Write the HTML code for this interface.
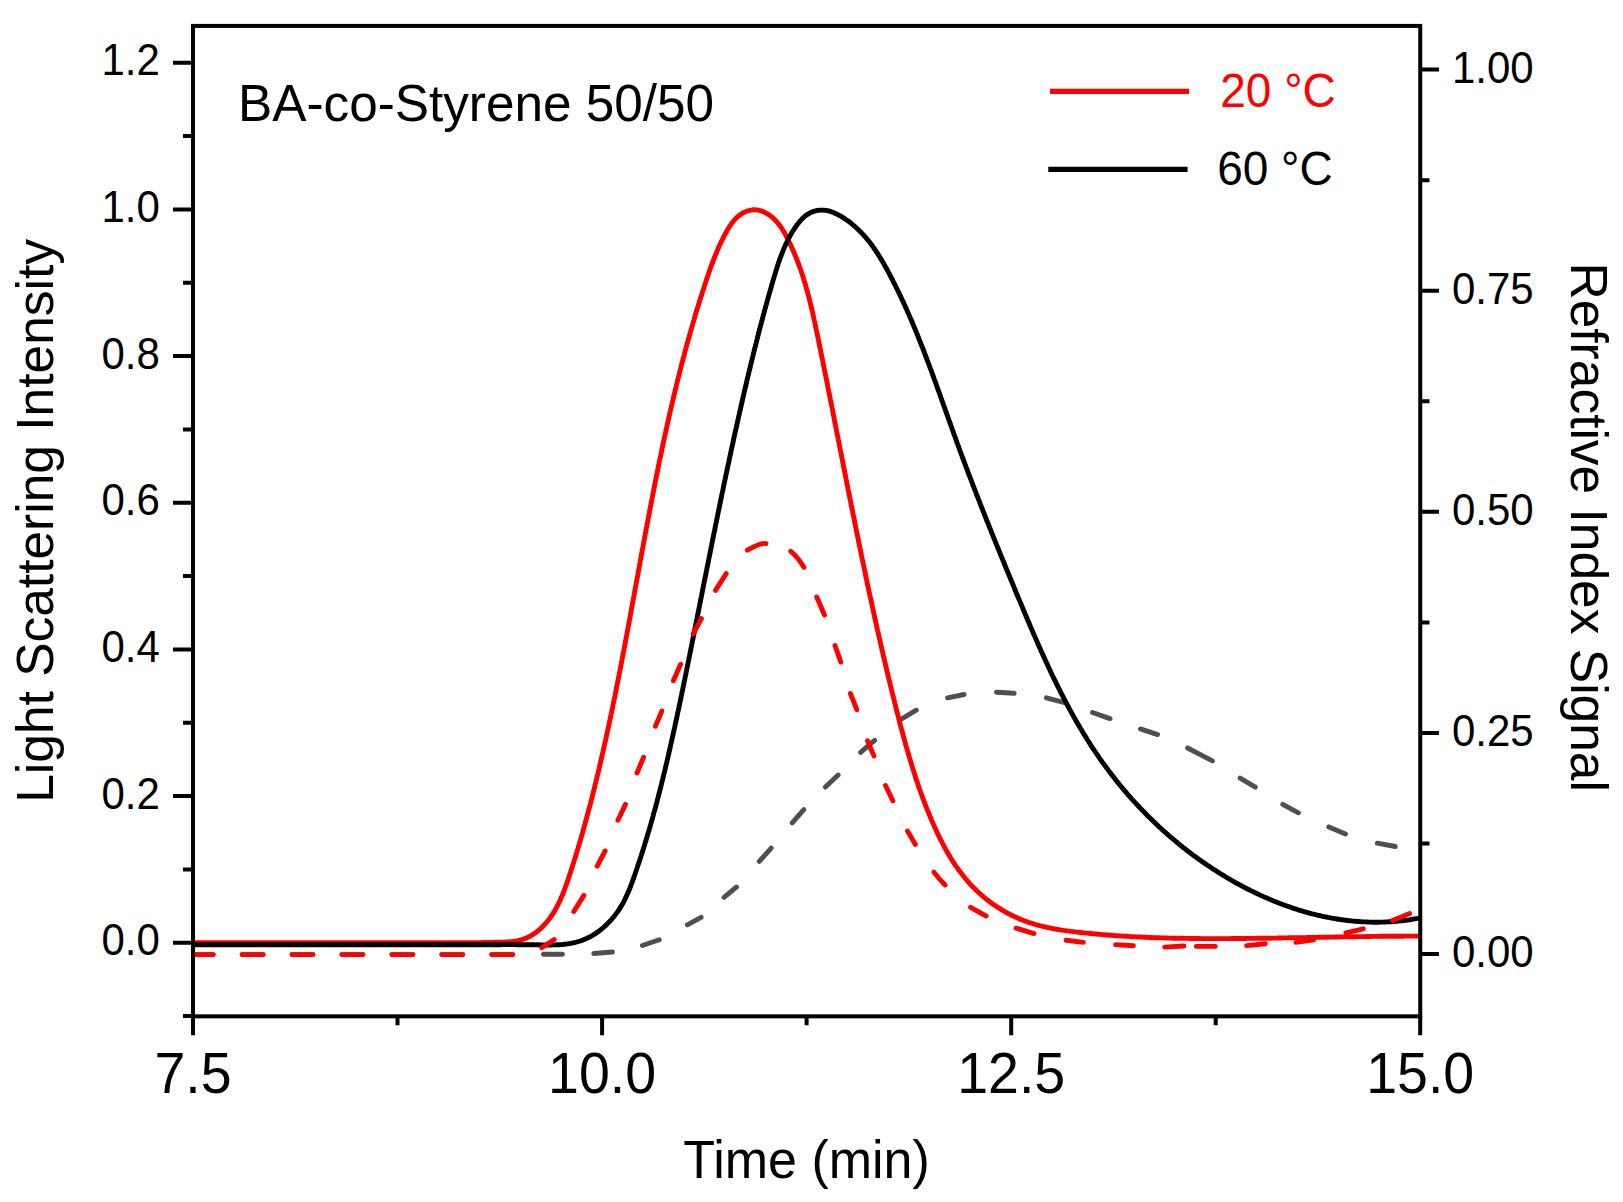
<!DOCTYPE html>
<html lang="en"><head><meta charset="utf-8"><title>BA-co-Styrene 50/50 GPC</title>
<style>html,body{margin:0;padding:0;background:#fff}svg{display:block}text{font-family:"Liberation Sans",sans-serif;}</style>
</head><body>
<svg width="1623" height="1202" viewBox="0 0 1623 1202">
<rect width="1623" height="1202" fill="#fff"/>
<defs><clipPath id="c"><rect x="193.0" y="25.9" width="1227.25" height="990.45"/></clipPath></defs>
<g clip-path="url(#c)" fill="none" stroke-linejoin="round">
<path d="M192.1,954.6 L213.2,954.6 M242.1,954.6 L263.1,954.6 M292.0,954.6 L313.0,954.6 M341.9,954.6 L362.9,954.6 M391.9,954.6 L412.9,954.6 M441.8,954.6 L462.8,954.6 M491.7,954.6 L512.7,954.6 M543.4,954.3 L562.4,954.3 M593.8,953.5 L612.4,952.0 M642.4,945.5 L659.3,939.7 M687.4,924.8 L701.1,917.4 M724.0,897.3 L736.5,887.0 M759.3,861.4 L771.2,848.1 M792.2,822.9 L803.8,809.6 M825.4,787.1 L838.1,775.0 M860.6,752.4 L874.6,740.4 M899.9,720.0 L916.3,710.2 M947.5,697.8 L964.0,694.5 M996.5,692.2 L1014.2,693.3 M1046.4,697.8 L1065.6,702.9 M1092.5,712.5 L1110.0,718.6 M1140.5,728.9 L1157.6,734.6 M1187.6,748.0 L1212.4,760.9 M1240.1,778.1 L1255.3,787.2 M1282.8,804.4 L1298.4,812.8 M1328.8,826.9 L1345.5,833.9 M1377.3,843.2 L1395.3,846.5" stroke="#4f4f4f" stroke-width="4.9" stroke-linecap="round"/>
<path d="M193.0,942.7 L195.0,942.7 L196.9,942.7 L198.8,942.7 L200.7,942.7 L202.6,942.7 L204.5,942.7 L206.4,942.7 L208.3,942.7 L210.3,942.7 L212.2,942.7 L214.1,942.7 L216.0,942.7 L217.9,942.7 L219.8,942.7 L221.7,942.7 L223.6,942.7 L225.6,942.7 L227.5,942.7 L229.4,942.7 L231.3,942.7 L233.2,942.7 L235.1,942.7 L237.1,942.7 L239.0,942.7 L240.9,942.7 L242.8,942.7 L244.7,942.7 L246.6,942.7 L248.5,942.7 L250.5,942.7 L252.4,942.7 L254.3,942.7 L256.2,942.7 L258.1,942.7 L260.1,942.7 L262.0,942.7 L263.9,942.7 L265.8,942.7 L267.7,942.7 L269.6,942.7 L271.6,942.7 L273.5,942.7 L275.4,942.7 L277.3,942.7 L279.2,942.7 L281.2,942.7 L283.1,942.7 L285.0,942.7 L286.9,942.7 L288.8,942.7 L290.7,942.7 L292.7,942.7 L294.6,942.7 L296.5,942.7 L298.4,942.7 L300.3,942.7 L302.3,942.7 L304.2,942.7 L306.1,942.7 L308.0,942.7 L309.9,942.7 L311.9,942.7 L313.8,942.7 L315.7,942.7 L317.6,942.7 L319.5,942.7 L321.5,942.7 L323.4,942.7 L325.3,942.7 L327.2,942.7 L329.1,942.7 L331.0,942.7 L333.0,942.7 L334.9,942.7 L336.8,942.7 L338.7,942.7 L340.6,942.7 L342.6,942.7 L344.5,942.7 L346.4,942.7 L348.3,942.7 L350.2,942.7 L352.1,942.7 L354.1,942.7 L356.0,942.7 L357.9,942.7 L359.8,942.7 L361.7,942.7 L363.6,942.7 L365.6,942.7 L367.5,942.7 L369.4,942.7 L371.3,942.7 L373.2,942.7 L375.1,942.7 L377.1,942.7 L379.0,942.7 L380.9,942.7 L382.8,942.7 L384.7,942.7 L386.6,942.7 L388.5,942.7 L390.5,942.7 L392.4,942.7 L394.3,942.7 L396.2,942.7 L398.1,942.7 L400.0,942.7 L401.9,942.7 L403.8,942.7 L405.8,942.7 L407.7,942.7 L409.6,942.7 L411.5,942.7 L413.4,942.7 L415.3,942.8 L417.2,942.8 L419.1,942.8 L421.0,942.8 L423.0,942.8 L424.9,942.8 L426.8,942.8 L428.7,942.8 L430.6,942.8 L432.5,942.8 L434.4,942.8 L436.3,942.8 L438.2,942.8 L440.2,942.8 L442.1,942.8 L444.0,942.8 L445.9,942.8 L447.8,942.8 L449.7,942.8 L451.6,942.8 L453.6,942.8 L455.5,942.8 L457.4,942.8 L459.3,942.8 L461.2,942.7 L463.1,942.7 L465.1,942.7 L467.0,942.7 L468.9,942.7 L470.8,942.7 L472.8,942.7 L474.7,942.6 L476.6,942.6 L478.5,942.6 L480.5,942.6 L482.4,942.5 L484.3,942.5 L486.3,942.5 L488.2,942.4 L490.1,942.4 L492.1,942.4 L494.0,942.3 L495.9,942.3 L497.9,942.2 L499.8,942.2 L501.8,942.1 L503.7,942.1 L505.6,942.0 L507.6,941.9 L509.5,941.8 L511.4,941.6 L513.3,941.4 L515.2,941.1 L517.1,940.8 L518.9,940.4 L520.7,940.0 L522.5,939.4 L524.3,938.8 L526.1,938.1 L527.8,937.3 L529.5,936.5 L531.1,935.6 L532.7,934.6 L534.3,933.5 L535.9,932.4 L537.4,931.3 L538.9,930.0 L540.3,928.8 L541.7,927.5 L543.1,926.1 L544.4,924.7 L545.7,923.3 L547.0,921.9 L548.2,920.4 L549.3,918.9 L550.4,917.3 L551.5,915.8 L552.6,914.2 L553.6,912.6 L554.6,911.0 L555.5,909.3 L556.4,907.7 L557.3,906.0 L558.2,904.3 L559.0,902.5 L559.9,900.8 L560.6,899.1 L561.4,897.3 L562.2,895.5 L562.9,893.7 L563.6,891.9 L564.3,890.1 L565.0,888.3 L565.6,886.5 L566.3,884.7 L566.9,882.8 L567.6,881.0 L568.2,879.2 L568.8,877.3 L569.4,875.5 L570.0,873.7 L570.6,871.8 L571.2,870.0 L571.8,868.2 L572.4,866.3 L573.0,864.5 L573.6,862.7 L574.2,860.8 L574.7,859.0 L575.3,857.2 L575.9,855.3 L576.4,853.5 L577.0,851.7 L577.6,849.8 L578.1,848.0 L578.7,846.1 L579.2,844.3 L579.7,842.5 L580.3,840.6 L580.8,838.8 L581.3,837.0 L581.9,835.1 L582.4,833.3 L582.9,831.5 L583.4,829.6 L583.9,827.8 L584.4,825.9 L584.9,824.1 L585.4,822.3 L585.9,820.4 L586.4,818.6 L586.9,816.7 L587.4,814.9 L587.9,813.0 L588.4,811.2 L588.9,809.3 L589.4,807.5 L589.9,805.7 L590.4,803.8 L590.8,802.0 L591.3,800.1 L591.8,798.3 L592.3,796.4 L592.7,794.6 L593.2,792.7 L593.7,790.9 L594.1,789.0 L594.6,787.1 L595.0,785.3 L595.5,783.4 L595.9,781.6 L596.4,779.7 L596.9,777.9 L597.3,776.0 L597.7,774.2 L598.2,772.3 L598.6,770.4 L599.1,768.6 L599.5,766.7 L599.9,764.9 L600.4,763.0 L600.8,761.1 L601.2,759.3 L601.7,757.4 L602.1,755.5 L602.5,753.7 L603.0,751.8 L603.4,749.9 L603.8,748.1 L604.2,746.2 L604.6,744.4 L605.0,742.5 L605.5,740.6 L605.9,738.7 L606.3,736.9 L606.7,735.0 L607.1,733.1 L607.5,731.3 L607.9,729.4 L608.3,727.5 L608.7,725.7 L609.1,723.8 L609.5,721.9 L609.9,720.0 L610.3,718.2 L610.7,716.3 L611.1,714.4 L611.5,712.5 L611.9,710.7 L612.3,708.8 L612.7,706.9 L613.0,705.0 L613.4,703.2 L613.8,701.3 L614.2,699.4 L614.6,697.5 L615.0,695.7 L615.3,693.8 L615.7,691.9 L616.1,690.0 L616.5,688.1 L616.8,686.3 L617.2,684.4 L617.6,682.5 L618.0,680.6 L618.3,678.7 L618.7,676.9 L619.1,675.0 L619.4,673.1 L619.8,671.2 L620.2,669.3 L620.5,667.4 L620.9,665.6 L621.3,663.7 L621.6,661.8 L622.0,659.9 L622.3,658.0 L622.7,656.1 L623.1,654.3 L623.4,652.4 L623.8,650.5 L624.1,648.6 L624.5,646.7 L624.9,644.8 L625.2,642.9 L625.6,641.1 L625.9,639.2 L626.3,637.3 L626.6,635.4 L627.0,633.5 L627.3,631.6 L627.7,629.7 L628.0,627.8 L628.4,626.0 L628.7,624.1 L629.1,622.2 L629.4,620.3 L629.8,618.4 L630.1,616.5 L630.5,614.6 L630.8,612.7 L631.2,610.8 L631.5,609.0 L631.9,607.1 L632.2,605.2 L632.6,603.3 L632.9,601.4 L633.3,599.5 L633.6,597.6 L634.0,595.7 L634.3,593.8 L634.6,591.9 L635.0,590.1 L635.3,588.2 L635.7,586.3 L636.0,584.4 L636.4,582.5 L636.7,580.6 L637.1,578.7 L637.4,576.8 L637.8,574.9 L638.1,573.0 L638.5,571.1 L638.8,569.2 L639.1,567.4 L639.5,565.5 L639.8,563.6 L640.2,561.7 L640.5,559.8 L640.9,557.9 L641.2,556.0 L641.6,554.1 L641.9,552.2 L642.3,550.3 L642.6,548.4 L643.0,546.5 L643.3,544.7 L643.7,542.8 L644.0,540.9 L644.4,539.0 L644.7,537.1 L645.1,535.2 L645.4,533.3 L645.8,531.4 L646.1,529.5 L646.5,527.6 L646.9,525.7 L647.2,523.9 L647.6,522.0 L647.9,520.1 L648.3,518.2 L648.6,516.3 L649.0,514.4 L649.4,512.5 L649.7,510.6 L650.1,508.7 L650.4,506.9 L650.8,505.0 L651.2,503.1 L651.5,501.2 L651.9,499.3 L652.3,497.4 L652.6,495.5 L653.0,493.6 L653.4,491.7 L653.7,489.9 L654.1,488.0 L654.5,486.1 L654.8,484.2 L655.2,482.3 L655.6,480.4 L656.0,478.6 L656.3,476.7 L656.7,474.8 L657.1,472.9 L657.5,471.0 L657.9,469.1 L658.2,467.2 L658.6,465.4 L659.0,463.5 L659.4,461.6 L659.8,459.7 L660.2,457.8 L660.6,456.0 L661.0,454.1 L661.4,452.2 L661.7,450.3 L662.1,448.4 L662.5,446.6 L662.9,444.7 L663.3,442.8 L663.7,440.9 L664.1,439.1 L664.5,437.2 L664.9,435.3 L665.4,433.4 L665.8,431.6 L666.2,429.7 L666.6,427.8 L667.0,425.9 L667.4,424.1 L667.8,422.2 L668.2,420.3 L668.7,418.5 L669.1,416.6 L669.5,414.7 L669.9,412.9 L670.4,411.0 L670.8,409.1 L671.2,407.3 L671.6,405.4 L672.1,403.5 L672.5,401.7 L673.0,399.8 L673.4,397.9 L673.8,396.1 L674.3,394.2 L674.7,392.3 L675.2,390.5 L675.6,388.6 L676.1,386.8 L676.5,384.9 L677.0,383.0 L677.4,381.2 L677.9,379.3 L678.4,377.5 L678.8,375.6 L679.3,373.8 L679.7,371.9 L680.2,370.1 L680.7,368.2 L681.2,366.4 L681.6,364.5 L682.1,362.7 L682.6,360.8 L683.1,359.0 L683.6,357.1 L684.1,355.3 L684.5,353.4 L685.0,351.6 L685.5,349.7 L686.0,347.9 L686.5,346.1 L687.0,344.2 L687.5,342.4 L688.0,340.5 L688.5,338.7 L689.1,336.9 L689.6,335.0 L690.1,333.2 L690.6,331.4 L691.1,329.5 L691.7,327.7 L692.2,325.9 L692.7,324.0 L693.2,322.2 L693.8,320.4 L694.3,318.6 L694.9,316.7 L695.4,314.9 L695.9,313.1 L696.5,311.3 L697.0,309.4 L697.6,307.6 L698.2,305.8 L698.7,304.0 L699.3,302.2 L699.8,300.3 L700.4,298.5 L701.0,296.7 L701.6,294.9 L702.1,293.1 L702.7,291.3 L703.3,289.5 L703.9,287.7 L704.5,285.8 L705.1,284.0 L705.7,282.2 L706.3,280.4 L706.9,278.6 L707.5,276.8 L708.1,275.0 L708.7,273.2 L709.3,271.4 L710.0,269.6 L710.6,267.8 L711.2,266.0 L711.9,264.2 L712.6,262.5 L713.2,260.7 L713.9,258.9 L714.6,257.1 L715.3,255.3 L716.1,253.5 L716.8,251.7 L717.6,249.9 L718.3,248.2 L719.1,246.4 L719.9,244.6 L720.8,242.8 L721.6,241.0 L722.5,239.3 L723.4,237.5 L724.3,235.7 L725.2,234.0 L726.2,232.2 L727.1,230.5 L728.2,228.7 L729.2,227.0 L730.3,225.4 L731.4,223.8 L732.6,222.2 L733.8,220.7 L735.1,219.3 L736.4,217.9 L737.8,216.7 L739.2,215.5 L740.7,214.4 L742.3,213.3 L743.9,212.4 L745.5,211.7 L747.3,211.0 L749.1,210.5 L750.9,210.1 L752.8,209.8 L754.6,209.8 L756.5,209.9 L758.4,210.2 L760.2,210.6 L762.0,211.2 L763.8,211.9 L765.5,212.8 L767.1,213.7 L768.7,214.7 L770.3,215.8 L771.7,216.9 L773.2,218.1 L774.5,219.4 L775.8,220.8 L777.1,222.2 L778.3,223.7 L779.5,225.2 L780.6,226.7 L781.7,228.3 L782.7,230.0 L783.7,231.6 L784.7,233.3 L785.7,235.1 L786.6,236.8 L787.5,238.5 L788.4,240.3 L789.2,242.0 L790.1,243.8 L790.9,245.6 L791.7,247.4 L792.5,249.1 L793.3,250.9 L794.1,252.7 L794.8,254.5 L795.6,256.3 L796.3,258.1 L797.0,259.9 L797.7,261.7 L798.4,263.5 L799.1,265.3 L799.7,267.1 L800.4,268.9 L801.0,270.7 L801.6,272.5 L802.2,274.3 L802.8,276.2 L803.4,278.0 L803.9,279.8 L804.5,281.7 L805.1,283.5 L805.6,285.3 L806.1,287.2 L806.6,289.0 L807.2,290.8 L807.7,292.7 L808.1,294.5 L808.6,296.4 L809.1,298.2 L809.6,300.1 L810.0,301.9 L810.5,303.8 L811.0,305.6 L811.4,307.5 L811.8,309.4 L812.3,311.2 L812.7,313.1 L813.1,314.9 L813.5,316.8 L813.9,318.7 L814.3,320.5 L814.8,322.4 L815.2,324.3 L815.5,326.1 L815.9,328.0 L816.3,329.9 L816.7,331.7 L817.1,333.6 L817.5,335.5 L817.9,337.4 L818.3,339.2 L818.7,341.1 L819.0,343.0 L819.4,344.8 L819.8,346.7 L820.2,348.6 L820.6,350.5 L820.9,352.3 L821.3,354.2 L821.7,356.1 L822.1,358.0 L822.5,359.8 L822.8,361.7 L823.2,363.6 L823.6,365.5 L824.0,367.3 L824.3,369.2 L824.7,371.1 L825.1,373.0 L825.5,374.8 L825.9,376.7 L826.2,378.6 L826.6,380.5 L827.0,382.3 L827.4,384.2 L827.7,386.1 L828.1,388.0 L828.5,389.8 L828.8,391.7 L829.2,393.6 L829.6,395.5 L830.0,397.4 L830.3,399.2 L830.7,401.1 L831.1,403.0 L831.5,404.9 L831.8,406.7 L832.2,408.6 L832.6,410.5 L832.9,412.4 L833.3,414.2 L833.7,416.1 L834.1,418.0 L834.4,419.9 L834.8,421.8 L835.2,423.6 L835.5,425.5 L835.9,427.4 L836.3,429.3 L836.6,431.2 L837.0,433.0 L837.4,434.9 L837.8,436.8 L838.1,438.7 L838.5,440.5 L838.9,442.4 L839.2,444.3 L839.6,446.2 L840.0,448.1 L840.3,449.9 L840.7,451.8 L841.1,453.7 L841.5,455.6 L841.8,457.5 L842.2,459.3 L842.6,461.2 L842.9,463.1 L843.3,465.0 L843.7,466.9 L844.1,468.7 L844.4,470.6 L844.8,472.5 L845.2,474.4 L845.5,476.3 L845.9,478.1 L846.3,480.0 L846.7,481.9 L847.0,483.8 L847.4,485.7 L847.8,487.5 L848.1,489.4 L848.5,491.3 L848.9,493.2 L849.3,495.0 L849.6,496.9 L850.0,498.8 L850.4,500.7 L850.8,502.6 L851.1,504.4 L851.5,506.3 L851.9,508.2 L852.3,510.1 L852.7,512.0 L853.0,513.8 L853.4,515.7 L853.8,517.6 L854.2,519.5 L854.5,521.4 L854.9,523.2 L855.3,525.1 L855.7,527.0 L856.1,528.9 L856.4,530.7 L856.8,532.6 L857.2,534.5 L857.6,536.4 L858.0,538.3 L858.4,540.1 L858.7,542.0 L859.1,543.9 L859.5,545.8 L859.9,547.6 L860.3,549.5 L860.7,551.4 L861.1,553.3 L861.4,555.2 L861.8,557.0 L862.2,558.9 L862.6,560.8 L863.0,562.7 L863.4,564.5 L863.8,566.4 L864.2,568.3 L864.6,570.2 L865.0,572.0 L865.4,573.9 L865.8,575.8 L866.1,577.7 L866.5,579.5 L866.9,581.4 L867.3,583.3 L867.7,585.2 L868.1,587.0 L868.5,588.9 L868.9,590.8 L869.3,592.7 L869.7,594.5 L870.1,596.4 L870.6,598.3 L871.0,600.2 L871.4,602.0 L871.8,603.9 L872.2,605.8 L872.6,607.7 L873.0,609.5 L873.4,611.4 L873.8,613.3 L874.2,615.1 L874.6,617.0 L875.0,618.9 L875.5,620.8 L875.9,622.6 L876.3,624.5 L876.7,626.4 L877.1,628.2 L877.5,630.1 L878.0,632.0 L878.4,633.8 L878.8,635.7 L879.2,637.6 L879.7,639.5 L880.1,641.3 L880.5,643.2 L880.9,645.1 L881.4,646.9 L881.8,648.8 L882.2,650.7 L882.7,652.5 L883.1,654.4 L883.5,656.3 L884.0,658.1 L884.4,660.0 L884.8,661.9 L885.3,663.7 L885.7,665.6 L886.1,667.5 L886.6,669.3 L887.0,671.2 L887.5,673.0 L887.9,674.9 L888.4,676.8 L888.8,678.6 L889.3,680.5 L889.7,682.4 L890.2,684.2 L890.6,686.1 L891.1,687.9 L891.5,689.8 L892.0,691.7 L892.4,693.5 L892.9,695.4 L893.4,697.2 L893.8,699.1 L894.3,701.0 L894.7,702.8 L895.2,704.7 L895.7,706.5 L896.1,708.4 L896.6,710.3 L897.1,712.1 L897.6,714.0 L898.0,715.8 L898.5,717.7 L899.0,719.5 L899.5,721.4 L899.9,723.2 L900.4,725.1 L900.9,727.0 L901.4,728.8 L901.9,730.7 L902.4,732.5 L902.9,734.4 L903.4,736.2 L903.9,738.1 L904.4,739.9 L904.9,741.7 L905.4,743.6 L905.9,745.4 L906.5,747.3 L907.0,749.1 L907.5,751.0 L908.0,752.8 L908.6,754.6 L909.1,756.5 L909.7,758.3 L910.2,760.1 L910.8,762.0 L911.3,763.8 L911.9,765.6 L912.4,767.5 L913.0,769.3 L913.6,771.1 L914.2,772.9 L914.8,774.8 L915.3,776.6 L915.9,778.4 L916.5,780.2 L917.2,782.0 L917.8,783.9 L918.4,785.7 L919.0,787.5 L919.6,789.3 L920.3,791.1 L920.9,792.9 L921.6,794.7 L922.2,796.5 L922.9,798.3 L923.6,800.1 L924.2,801.9 L924.9,803.7 L925.6,805.5 L926.3,807.3 L927.0,809.1 L927.7,810.8 L928.5,812.6 L929.2,814.4 L929.9,816.2 L930.7,817.9 L931.4,819.7 L932.2,821.5 L932.9,823.3 L933.7,825.0 L934.5,826.8 L935.3,828.5 L936.1,830.3 L936.9,832.0 L937.7,833.8 L938.6,835.5 L939.4,837.3 L940.3,839.0 L941.1,840.7 L942.0,842.4 L942.9,844.1 L943.8,845.8 L944.7,847.5 L945.6,849.2 L946.6,850.9 L947.5,852.6 L948.5,854.2 L949.5,855.9 L950.4,857.5 L951.4,859.1 L952.5,860.8 L953.5,862.4 L954.6,864.0 L955.6,865.6 L956.7,867.1 L957.8,868.7 L958.9,870.3 L960.1,871.8 L961.2,873.3 L962.4,874.8 L963.6,876.3 L964.8,877.8 L966.0,879.3 L967.2,880.7 L968.5,882.2 L969.7,883.6 L971.0,885.0 L972.4,886.4 L973.7,887.7 L975.1,889.1 L976.4,890.4 L977.8,891.7 L979.2,893.0 L980.7,894.3 L982.1,895.6 L983.6,896.8 L985.0,898.1 L986.5,899.3 L988.1,900.5 L989.6,901.6 L991.1,902.8 L992.7,903.9 L994.3,905.0 L995.8,906.1 L997.5,907.1 L999.1,908.2 L1000.7,909.2 L1002.3,910.2 L1004.0,911.2 L1005.7,912.1 L1007.3,913.0 L1009.0,913.9 L1010.7,914.8 L1012.5,915.7 L1014.2,916.5 L1015.9,917.3 L1017.7,918.1 L1019.4,918.9 L1021.2,919.6 L1023.0,920.3 L1024.8,921.0 L1026.5,921.6 L1028.3,922.3 L1030.2,922.9 L1032.0,923.4 L1033.8,924.0 L1035.6,924.5 L1037.5,925.1 L1039.3,925.5 L1041.2,926.0 L1043.0,926.5 L1044.9,926.9 L1046.7,927.3 L1048.6,927.7 L1050.5,928.1 L1052.4,928.5 L1054.3,928.8 L1056.1,929.1 L1058.0,929.5 L1059.9,929.8 L1061.8,930.1 L1063.7,930.4 L1065.6,930.6 L1067.5,930.9 L1069.5,931.1 L1071.4,931.4 L1073.3,931.6 L1075.2,931.9 L1077.1,932.1 L1079.0,932.3 L1080.9,932.5 L1082.8,932.7 L1084.8,932.9 L1086.7,933.1 L1088.6,933.3 L1090.5,933.5 L1092.4,933.7 L1094.3,933.9 L1096.2,934.0 L1098.1,934.2 L1100.1,934.4 L1102.0,934.6 L1103.9,934.7 L1105.8,934.9 L1107.7,935.0 L1109.6,935.2 L1111.5,935.3 L1113.5,935.5 L1115.4,935.6 L1117.3,935.7 L1119.2,935.9 L1121.1,936.0 L1123.0,936.1 L1124.9,936.2 L1126.9,936.3 L1128.8,936.4 L1130.7,936.6 L1132.6,936.7 L1134.5,936.8 L1136.4,936.9 L1138.3,937.0 L1140.2,937.0 L1142.2,937.1 L1144.1,937.2 L1146.0,937.3 L1147.9,937.4 L1149.8,937.5 L1151.7,937.5 L1153.6,937.6 L1155.6,937.7 L1157.5,937.7 L1159.4,937.8 L1161.3,937.9 L1163.2,937.9 L1165.1,938.0 L1167.0,938.0 L1169.0,938.1 L1170.9,938.1 L1172.8,938.2 L1174.7,938.2 L1176.6,938.2 L1178.5,938.3 L1180.4,938.3 L1182.4,938.3 L1184.3,938.4 L1186.2,938.4 L1188.1,938.4 L1190.0,938.5 L1191.9,938.5 L1193.8,938.5 L1195.8,938.5 L1197.7,938.5 L1199.6,938.5 L1201.5,938.6 L1203.4,938.6 L1205.3,938.6 L1207.2,938.6 L1209.2,938.6 L1211.1,938.6 L1213.0,938.6 L1214.9,938.6 L1216.8,938.6 L1218.7,938.6 L1220.7,938.6 L1222.6,938.6 L1224.5,938.6 L1226.4,938.6 L1228.3,938.6 L1230.2,938.6 L1232.1,938.5 L1234.1,938.5 L1236.0,938.5 L1237.9,938.5 L1239.8,938.5 L1241.7,938.5 L1243.6,938.5 L1245.6,938.5 L1247.5,938.4 L1249.4,938.4 L1251.3,938.4 L1253.2,938.4 L1255.1,938.4 L1257.1,938.3 L1259.0,938.3 L1260.9,938.3 L1262.8,938.3 L1264.7,938.2 L1266.7,938.2 L1268.6,938.2 L1270.5,938.2 L1272.4,938.1 L1274.3,938.1 L1276.2,938.1 L1278.2,938.0 L1280.1,938.0 L1282.0,938.0 L1283.9,937.9 L1285.8,937.9 L1287.7,937.9 L1289.7,937.8 L1291.6,937.8 L1293.5,937.8 L1295.4,937.7 L1297.3,937.7 L1299.2,937.7 L1301.2,937.6 L1303.1,937.6 L1305.0,937.6 L1306.9,937.5 L1308.8,937.5 L1310.8,937.5 L1312.7,937.4 L1314.6,937.4 L1316.5,937.4 L1318.4,937.3 L1320.3,937.3 L1322.3,937.3 L1324.2,937.2 L1326.1,937.2 L1328.0,937.2 L1329.9,937.1 L1331.8,937.1 L1333.8,937.1 L1335.7,937.0 L1337.6,937.0 L1339.5,937.0 L1341.4,936.9 L1343.4,936.9 L1345.3,936.9 L1347.2,936.8 L1349.1,936.8 L1351.0,936.8 L1352.9,936.7 L1354.9,936.7 L1356.8,936.7 L1358.7,936.6 L1360.6,936.6 L1362.5,936.6 L1364.4,936.6 L1366.4,936.5 L1368.3,936.5 L1370.2,936.5 L1372.1,936.4 L1374.0,936.4 L1375.9,936.4 L1377.9,936.4 L1379.8,936.4 L1381.7,936.3 L1383.6,936.3 L1385.5,936.3 L1387.4,936.3 L1389.3,936.3 L1391.3,936.2 L1393.2,936.2 L1395.1,936.2 L1397.0,936.2 L1398.9,936.2 L1400.8,936.2 L1402.8,936.2 L1404.7,936.1 L1406.6,936.1 L1408.5,936.1 L1410.4,936.1 L1412.3,936.1 L1414.2,936.1 L1416.2,936.1 L1418.1,936.1 L1420.0,936.1" stroke="#ff0000" stroke-width="4.9"/>
<path d="M193.0,944.7 L194.8,944.7 L196.6,944.7 L198.5,944.7 L200.3,944.7 L202.1,944.7 L203.9,944.7 L205.7,944.7 L207.6,944.7 L209.4,944.7 L211.2,944.7 L213.0,944.7 L214.8,944.7 L216.7,944.7 L218.5,944.7 L220.3,944.7 L222.1,944.7 L223.9,944.7 L225.8,944.7 L227.6,944.7 L229.4,944.7 L231.2,944.7 L233.0,944.7 L234.9,944.7 L236.7,944.7 L238.5,944.7 L240.3,944.7 L242.1,944.7 L244.0,944.7 L245.8,944.7 L247.6,944.7 L249.4,944.7 L251.2,944.7 L253.1,944.7 L254.9,944.7 L256.7,944.7 L258.5,944.7 L260.3,944.7 L262.2,944.7 L264.0,944.7 L265.8,944.7 L267.6,944.7 L269.4,944.7 L271.3,944.7 L273.1,944.7 L274.9,944.7 L276.7,944.7 L278.5,944.7 L280.4,944.7 L282.2,944.7 L284.0,944.7 L285.8,944.7 L287.6,944.7 L289.4,944.7 L291.3,944.7 L293.1,944.7 L294.9,944.7 L296.7,944.7 L298.5,944.7 L300.4,944.7 L302.2,944.7 L304.0,944.7 L305.8,944.7 L307.6,944.7 L309.5,944.7 L311.3,944.7 L313.1,944.7 L314.9,944.7 L316.7,944.7 L318.6,944.7 L320.4,944.7 L322.2,944.7 L324.0,944.7 L325.8,944.7 L327.7,944.7 L329.5,944.7 L331.3,944.7 L333.1,944.7 L334.9,944.7 L336.8,944.7 L338.6,944.7 L340.4,944.7 L342.2,944.7 L344.0,944.7 L345.9,944.7 L347.7,944.7 L349.5,944.7 L351.3,944.7 L353.1,944.7 L354.9,944.7 L356.8,944.7 L358.6,944.7 L360.4,944.7 L362.2,944.7 L364.0,944.7 L365.9,944.7 L367.7,944.7 L369.5,944.7 L371.3,944.7 L373.1,944.7 L375.0,944.7 L376.8,944.7 L378.6,944.7 L380.4,944.7 L382.3,944.7 L384.1,944.7 L385.9,944.7 L387.7,944.7 L389.5,944.7 L391.4,944.7 L393.2,944.7 L395.0,944.7 L396.8,944.7 L398.6,944.7 L400.5,944.7 L402.3,944.7 L404.1,944.7 L405.9,944.7 L407.7,944.7 L409.6,944.7 L411.4,944.7 L413.2,944.7 L415.0,944.7 L416.8,944.7 L418.7,944.7 L420.5,944.7 L422.3,944.7 L424.1,944.7 L425.9,944.7 L427.8,944.7 L429.6,944.7 L431.4,944.7 L433.2,944.7 L435.0,944.7 L436.9,944.7 L438.7,944.7 L440.5,944.7 L442.3,944.7 L444.1,944.7 L446.0,944.7 L447.8,944.7 L449.6,944.7 L451.4,944.7 L453.2,944.7 L455.1,944.7 L456.9,944.7 L458.7,944.7 L460.5,944.7 L462.3,944.7 L464.2,944.7 L466.0,944.7 L467.8,944.7 L469.6,944.7 L471.4,944.7 L473.3,944.7 L475.1,944.7 L476.9,944.7 L478.7,944.7 L480.5,944.7 L482.3,944.7 L484.2,944.7 L486.0,944.7 L487.8,944.7 L489.6,944.7 L491.4,944.7 L493.2,944.7 L495.1,944.7 L496.9,944.7 L498.7,944.7 L500.5,944.7 L502.3,944.6 L504.1,944.6 L506.0,944.6 L507.8,944.6 L509.6,944.6 L511.4,944.6 L513.2,944.6 L515.0,944.6 L516.9,944.7 L518.7,944.7 L520.5,944.7 L522.3,944.7 L524.1,944.7 L526.0,944.7 L527.8,944.7 L529.6,944.7 L531.4,944.7 L533.3,944.8 L535.1,944.8 L536.9,944.8 L538.8,944.8 L540.6,944.9 L542.4,944.9 L544.3,944.9 L546.1,945.0 L547.9,945.0 L549.8,945.0 L551.6,945.0 L553.4,944.9 L555.2,944.9 L557.1,944.8 L558.9,944.7 L560.7,944.6 L562.5,944.5 L564.3,944.3 L566.1,944.1 L567.9,943.8 L569.7,943.6 L571.5,943.2 L573.3,942.9 L575.0,942.5 L576.8,942.0 L578.5,941.5 L580.2,941.0 L581.9,940.4 L583.6,939.7 L585.3,939.0 L586.9,938.3 L588.6,937.5 L590.2,936.7 L591.8,935.8 L593.3,934.9 L594.9,933.9 L596.4,932.9 L597.9,931.9 L599.4,930.8 L600.8,929.7 L602.2,928.5 L603.6,927.3 L605.0,926.1 L606.3,924.9 L607.6,923.6 L608.9,922.3 L610.2,921.0 L611.4,919.6 L612.6,918.2 L613.8,916.8 L614.9,915.4 L616.0,913.9 L617.1,912.4 L618.2,910.9 L619.2,909.4 L620.2,907.9 L621.1,906.3 L622.0,904.7 L622.9,903.2 L623.8,901.6 L624.6,900.0 L625.4,898.3 L626.2,896.7 L626.9,895.0 L627.7,893.4 L628.4,891.7 L629.1,890.0 L629.8,888.4 L630.4,886.7 L631.1,885.0 L631.7,883.3 L632.4,881.6 L633.0,879.8 L633.6,878.1 L634.2,876.4 L634.8,874.7 L635.4,873.0 L636.0,871.2 L636.6,869.5 L637.2,867.8 L637.7,866.1 L638.3,864.3 L638.9,862.6 L639.5,860.9 L640.0,859.2 L640.6,857.4 L641.2,855.7 L641.7,854.0 L642.3,852.2 L642.8,850.5 L643.4,848.7 L643.9,847.0 L644.5,845.3 L645.0,843.5 L645.5,841.8 L646.1,840.1 L646.6,838.3 L647.1,836.6 L647.6,834.8 L648.1,833.1 L648.7,831.3 L649.2,829.6 L649.7,827.9 L650.2,826.1 L650.7,824.4 L651.2,822.6 L651.7,820.9 L652.2,819.1 L652.7,817.4 L653.2,815.6 L653.6,813.9 L654.1,812.1 L654.6,810.3 L655.1,808.6 L655.6,806.8 L656.0,805.1 L656.5,803.3 L657.0,801.6 L657.4,799.8 L657.9,798.1 L658.3,796.3 L658.8,794.5 L659.3,792.8 L659.7,791.0 L660.2,789.3 L660.6,787.5 L661.1,785.7 L661.5,784.0 L661.9,782.2 L662.4,780.4 L662.8,778.7 L663.2,776.9 L663.7,775.1 L664.1,773.4 L664.5,771.6 L665.0,769.8 L665.4,768.1 L665.8,766.3 L666.2,764.5 L666.6,762.8 L667.1,761.0 L667.5,759.2 L667.9,757.4 L668.3,755.7 L668.7,753.9 L669.1,752.1 L669.5,750.4 L669.9,748.6 L670.3,746.8 L670.7,745.0 L671.1,743.3 L671.5,741.5 L671.9,739.7 L672.3,737.9 L672.7,736.1 L673.1,734.4 L673.5,732.6 L673.9,730.8 L674.3,729.0 L674.7,727.3 L675.1,725.5 L675.4,723.7 L675.8,721.9 L676.2,720.1 L676.6,718.4 L677.0,716.6 L677.3,714.8 L677.7,713.0 L678.1,711.2 L678.5,709.5 L678.9,707.7 L679.2,705.9 L679.6,704.1 L680.0,702.3 L680.3,700.6 L680.7,698.8 L681.1,697.0 L681.5,695.2 L681.8,693.4 L682.2,691.6 L682.6,689.9 L682.9,688.1 L683.3,686.3 L683.7,684.5 L684.0,682.7 L684.4,680.9 L684.8,679.2 L685.1,677.4 L685.5,675.6 L685.9,673.8 L686.2,672.0 L686.6,670.2 L686.9,668.4 L687.3,666.7 L687.7,664.9 L688.0,663.1 L688.4,661.3 L688.8,659.5 L689.1,657.7 L689.5,656.0 L689.8,654.2 L690.2,652.4 L690.6,650.6 L690.9,648.8 L691.3,647.0 L691.6,645.2 L692.0,643.5 L692.3,641.7 L692.7,639.9 L693.1,638.1 L693.4,636.3 L693.8,634.5 L694.1,632.7 L694.5,631.0 L694.8,629.2 L695.2,627.4 L695.6,625.6 L695.9,623.8 L696.3,622.0 L696.6,620.2 L697.0,618.5 L697.3,616.7 L697.7,614.9 L698.1,613.1 L698.4,611.3 L698.8,609.5 L699.1,607.7 L699.5,606.0 L699.8,604.2 L700.2,602.4 L700.5,600.6 L700.9,598.8 L701.3,597.0 L701.6,595.2 L702.0,593.5 L702.3,591.7 L702.7,589.9 L703.0,588.1 L703.4,586.3 L703.7,584.5 L704.1,582.7 L704.4,580.9 L704.8,579.2 L705.2,577.4 L705.5,575.6 L705.9,573.8 L706.2,572.0 L706.6,570.2 L706.9,568.4 L707.3,566.7 L707.7,564.9 L708.0,563.1 L708.4,561.3 L708.7,559.5 L709.1,557.7 L709.4,556.0 L709.8,554.2 L710.2,552.4 L710.5,550.6 L710.9,548.8 L711.2,547.0 L711.6,545.2 L711.9,543.5 L712.3,541.7 L712.7,539.9 L713.0,538.1 L713.4,536.3 L713.7,534.5 L714.1,532.7 L714.5,531.0 L714.8,529.2 L715.2,527.4 L715.5,525.6 L715.9,523.8 L716.3,522.0 L716.6,520.3 L717.0,518.5 L717.4,516.7 L717.7,514.9 L718.1,513.1 L718.4,511.3 L718.8,509.6 L719.2,507.8 L719.5,506.0 L719.9,504.2 L720.3,502.4 L720.6,500.6 L721.0,498.9 L721.4,497.1 L721.7,495.3 L722.1,493.5 L722.5,491.7 L722.9,490.0 L723.2,488.2 L723.6,486.4 L724.0,484.6 L724.3,482.8 L724.7,481.1 L725.1,479.3 L725.5,477.5 L725.8,475.7 L726.2,473.9 L726.6,472.2 L727.0,470.4 L727.3,468.6 L727.7,466.8 L728.1,465.0 L728.5,463.3 L728.9,461.5 L729.2,459.7 L729.6,457.9 L730.0,456.1 L730.4,454.4 L730.8,452.6 L731.1,450.8 L731.5,449.0 L731.9,447.3 L732.3,445.5 L732.7,443.7 L733.1,441.9 L733.5,440.1 L733.8,438.4 L734.2,436.6 L734.6,434.8 L735.0,433.0 L735.4,431.3 L735.8,429.5 L736.2,427.7 L736.6,425.9 L737.0,424.2 L737.4,422.4 L737.8,420.6 L738.2,418.8 L738.6,417.1 L739.0,415.3 L739.4,413.5 L739.8,411.7 L740.2,410.0 L740.6,408.2 L741.0,406.4 L741.4,404.7 L741.8,402.9 L742.2,401.1 L742.6,399.3 L743.0,397.6 L743.4,395.8 L743.8,394.0 L744.2,392.3 L744.6,390.5 L745.0,388.7 L745.5,387.0 L745.9,385.2 L746.3,383.4 L746.7,381.6 L747.1,379.9 L747.5,378.1 L748.0,376.3 L748.4,374.6 L748.8,372.8 L749.2,371.0 L749.7,369.3 L750.1,367.5 L750.5,365.7 L750.9,364.0 L751.4,362.2 L751.8,360.5 L752.2,358.7 L752.7,356.9 L753.1,355.2 L753.5,353.4 L754.0,351.6 L754.4,349.9 L754.8,348.1 L755.3,346.3 L755.7,344.6 L756.2,342.8 L756.6,341.1 L757.1,339.3 L757.5,337.5 L758.0,335.8 L758.4,334.0 L758.9,332.3 L759.3,330.5 L759.8,328.7 L760.2,327.0 L760.7,325.2 L761.2,323.5 L761.6,321.7 L762.1,320.0 L762.6,318.2 L763.0,316.4 L763.5,314.7 L764.0,312.9 L764.4,311.2 L764.9,309.4 L765.4,307.7 L765.9,305.9 L766.4,304.2 L766.8,302.4 L767.3,300.7 L767.8,298.9 L768.3,297.2 L768.8,295.4 L769.3,293.7 L769.8,291.9 L770.3,290.2 L770.8,288.4 L771.3,286.7 L771.8,284.9 L772.3,283.2 L772.8,281.4 L773.3,279.7 L773.8,277.9 L774.3,276.2 L774.9,274.5 L775.4,272.7 L775.9,271.0 L776.5,269.2 L777.0,267.5 L777.6,265.8 L778.1,264.0 L778.7,262.3 L779.3,260.6 L779.9,258.9 L780.5,257.2 L781.2,255.5 L781.8,253.8 L782.5,252.1 L783.2,250.4 L783.9,248.7 L784.6,247.0 L785.3,245.3 L786.1,243.7 L786.9,242.0 L787.7,240.4 L788.5,238.7 L789.4,237.1 L790.3,235.5 L791.2,233.9 L792.1,232.3 L793.1,230.7 L794.1,229.1 L795.2,227.5 L796.2,226.0 L797.3,224.5 L798.5,223.0 L799.7,221.5 L800.9,220.2 L802.1,218.8 L803.4,217.6 L804.8,216.4 L806.2,215.3 L807.7,214.3 L809.2,213.4 L810.7,212.6 L812.3,211.9 L813.9,211.3 L815.6,210.8 L817.3,210.4 L819.0,210.2 L820.7,210.1 L822.4,210.1 L824.1,210.2 L825.8,210.4 L827.6,210.7 L829.3,211.2 L831.0,211.7 L832.7,212.3 L834.4,213.0 L836.1,213.8 L837.8,214.6 L839.4,215.5 L841.1,216.4 L842.7,217.4 L844.3,218.4 L845.8,219.5 L847.4,220.5 L848.9,221.6 L850.4,222.7 L851.8,223.9 L853.2,225.1 L854.6,226.2 L856.0,227.5 L857.3,228.7 L858.6,229.9 L859.9,231.2 L861.2,232.5 L862.4,233.8 L863.7,235.2 L864.9,236.5 L866.1,237.9 L867.2,239.3 L868.4,240.7 L869.5,242.1 L870.6,243.5 L871.7,245.0 L872.7,246.4 L873.8,247.9 L874.8,249.4 L875.8,250.9 L876.8,252.4 L877.8,253.9 L878.8,255.5 L879.8,257.0 L880.7,258.6 L881.7,260.1 L882.6,261.7 L883.5,263.3 L884.4,264.9 L885.3,266.5 L886.2,268.0 L887.1,269.7 L887.9,271.3 L888.8,272.9 L889.7,274.5 L890.5,276.1 L891.3,277.7 L892.2,279.3 L893.0,281.0 L893.8,282.6 L894.7,284.2 L895.5,285.9 L896.3,287.5 L897.1,289.1 L897.9,290.8 L898.7,292.4 L899.5,294.1 L900.3,295.7 L901.0,297.3 L901.8,299.0 L902.6,300.7 L903.4,302.3 L904.1,304.0 L904.9,305.6 L905.6,307.3 L906.4,308.9 L907.1,310.6 L907.8,312.3 L908.6,313.9 L909.3,315.6 L910.0,317.3 L910.8,319.0 L911.5,320.6 L912.2,322.3 L912.9,324.0 L913.6,325.7 L914.3,327.4 L915.0,329.0 L915.7,330.7 L916.4,332.4 L917.1,334.1 L917.8,335.8 L918.4,337.5 L919.1,339.2 L919.8,340.9 L920.5,342.6 L921.1,344.3 L921.8,345.9 L922.5,347.6 L923.1,349.3 L923.8,351.0 L924.4,352.7 L925.1,354.4 L925.7,356.2 L926.4,357.9 L927.0,359.6 L927.7,361.3 L928.3,363.0 L929.0,364.7 L929.6,366.4 L930.2,368.1 L930.9,369.8 L931.5,371.5 L932.1,373.2 L932.8,374.9 L933.4,376.6 L934.0,378.4 L934.6,380.1 L935.3,381.8 L935.9,383.5 L936.5,385.2 L937.1,386.9 L937.7,388.6 L938.3,390.3 L939.0,392.1 L939.6,393.8 L940.2,395.5 L940.8,397.2 L941.4,398.9 L942.0,400.6 L942.6,402.3 L943.2,404.1 L943.9,405.8 L944.5,407.5 L945.1,409.2 L945.7,410.9 L946.3,412.6 L946.9,414.3 L947.5,416.0 L948.1,417.8 L948.7,419.5 L949.3,421.2 L950.0,422.9 L950.6,424.6 L951.2,426.3 L951.8,428.0 L952.4,429.7 L953.0,431.4 L953.6,433.1 L954.2,434.9 L954.9,436.6 L955.5,438.3 L956.1,440.0 L956.7,441.7 L957.3,443.4 L958.0,445.1 L958.6,446.8 L959.2,448.5 L959.8,450.2 L960.4,451.9 L961.1,453.6 L961.7,455.3 L962.3,457.0 L963.0,458.7 L963.6,460.3 L964.2,462.0 L964.9,463.7 L965.5,465.4 L966.1,467.1 L966.8,468.8 L967.4,470.5 L968.0,472.2 L968.7,473.9 L969.3,475.6 L970.0,477.2 L970.6,478.9 L971.3,480.6 L971.9,482.3 L972.5,484.0 L973.2,485.7 L973.8,487.4 L974.5,489.0 L975.1,490.7 L975.8,492.4 L976.4,494.1 L977.1,495.8 L977.8,497.5 L978.4,499.1 L979.1,500.8 L979.7,502.5 L980.4,504.2 L981.0,505.9 L981.7,507.5 L982.4,509.2 L983.0,510.9 L983.7,512.6 L984.4,514.3 L985.0,515.9 L985.7,517.6 L986.3,519.3 L987.0,521.0 L987.7,522.6 L988.4,524.3 L989.0,526.0 L989.7,527.7 L990.4,529.4 L991.0,531.0 L991.7,532.7 L992.4,534.4 L993.1,536.1 L993.7,537.7 L994.4,539.4 L995.1,541.1 L995.8,542.8 L996.4,544.4 L997.1,546.1 L997.8,547.8 L998.5,549.5 L999.2,551.1 L999.8,552.8 L1000.5,554.5 L1001.2,556.2 L1001.9,557.9 L1002.6,559.5 L1003.3,561.2 L1004.0,562.9 L1004.6,564.6 L1005.3,566.2 L1006.0,567.9 L1006.7,569.6 L1007.4,571.3 L1008.1,573.0 L1008.8,574.6 L1009.5,576.3 L1010.2,578.0 L1010.9,579.7 L1011.6,581.4 L1012.3,583.0 L1013.0,584.7 L1013.7,586.4 L1014.4,588.1 L1015.0,589.8 L1015.7,591.4 L1016.4,593.1 L1017.1,594.8 L1017.8,596.5 L1018.5,598.2 L1019.3,599.9 L1020.0,601.6 L1020.7,603.2 L1021.4,604.9 L1022.1,606.6 L1022.8,608.3 L1023.5,610.0 L1024.2,611.7 L1024.9,613.4 L1025.6,615.0 L1026.3,616.7 L1027.0,618.4 L1027.7,620.1 L1028.5,621.8 L1029.2,623.5 L1029.9,625.2 L1030.6,626.9 L1031.3,628.5 L1032.1,630.2 L1032.8,631.9 L1033.5,633.6 L1034.2,635.3 L1035.0,637.0 L1035.7,638.6 L1036.4,640.3 L1037.2,642.0 L1037.9,643.7 L1038.7,645.4 L1039.4,647.0 L1040.1,648.7 L1040.9,650.4 L1041.6,652.1 L1042.4,653.7 L1043.1,655.4 L1043.9,657.1 L1044.7,658.7 L1045.4,660.4 L1046.2,662.1 L1047.0,663.7 L1047.7,665.4 L1048.5,667.1 L1049.3,668.7 L1050.1,670.4 L1050.8,672.0 L1051.6,673.7 L1052.4,675.4 L1053.2,677.0 L1054.0,678.7 L1054.8,680.3 L1055.6,681.9 L1056.4,683.6 L1057.2,685.2 L1058.0,686.9 L1058.9,688.5 L1059.7,690.1 L1060.5,691.8 L1061.3,693.4 L1062.2,695.0 L1063.0,696.7 L1063.8,698.3 L1064.7,699.9 L1065.5,701.5 L1066.4,703.1 L1067.2,704.8 L1068.1,706.4 L1069.0,708.0 L1069.8,709.6 L1070.7,711.2 L1071.6,712.8 L1072.5,714.4 L1073.3,716.0 L1074.2,717.6 L1075.1,719.1 L1076.0,720.7 L1076.9,722.3 L1077.9,723.9 L1078.8,725.4 L1079.7,727.0 L1080.6,728.6 L1081.5,730.1 L1082.5,731.7 L1083.4,733.3 L1084.4,734.8 L1085.3,736.4 L1086.3,737.9 L1087.2,739.5 L1088.2,741.0 L1089.2,742.5 L1090.1,744.1 L1091.1,745.6 L1092.1,747.1 L1093.1,748.6 L1094.1,750.1 L1095.1,751.6 L1096.1,753.1 L1097.2,754.6 L1098.2,756.1 L1099.2,757.6 L1100.2,759.1 L1101.3,760.6 L1102.3,762.1 L1103.4,763.6 L1104.5,765.0 L1105.5,766.5 L1106.6,767.9 L1107.7,769.4 L1108.8,770.9 L1109.9,772.3 L1111.0,773.7 L1112.1,775.2 L1113.2,776.6 L1114.3,778.0 L1115.4,779.5 L1116.5,780.9 L1117.7,782.3 L1118.8,783.7 L1119.9,785.1 L1121.1,786.5 L1122.3,787.9 L1123.4,789.3 L1124.6,790.7 L1125.8,792.1 L1126.9,793.4 L1128.1,794.8 L1129.3,796.2 L1130.5,797.5 L1131.7,798.9 L1132.9,800.2 L1134.2,801.6 L1135.4,802.9 L1136.6,804.2 L1137.8,805.6 L1139.1,806.9 L1140.3,808.2 L1141.6,809.5 L1142.8,810.8 L1144.1,812.1 L1145.4,813.4 L1146.6,814.7 L1147.9,816.0 L1149.2,817.3 L1150.5,818.5 L1151.8,819.8 L1153.1,821.1 L1154.4,822.3 L1155.7,823.6 L1157.0,824.8 L1158.3,826.1 L1159.7,827.3 L1161.0,828.5 L1162.3,829.8 L1163.7,831.0 L1165.0,832.2 L1166.4,833.4 L1167.8,834.6 L1169.1,835.8 L1170.5,837.0 L1171.9,838.1 L1173.3,839.3 L1174.7,840.5 L1176.1,841.7 L1177.5,842.8 L1178.9,844.0 L1180.3,845.1 L1181.7,846.3 L1183.1,847.4 L1184.6,848.5 L1186.0,849.6 L1187.4,850.8 L1188.9,851.9 L1190.3,853.0 L1191.8,854.1 L1193.2,855.2 L1194.7,856.2 L1196.2,857.3 L1197.7,858.4 L1199.1,859.5 L1200.6,860.5 L1202.1,861.6 L1203.6,862.6 L1205.1,863.6 L1206.6,864.7 L1208.1,865.7 L1209.7,866.7 L1211.2,867.7 L1212.7,868.7 L1214.2,869.7 L1215.8,870.7 L1217.3,871.7 L1218.9,872.7 L1220.4,873.7 L1222.0,874.6 L1223.6,875.6 L1225.1,876.5 L1226.7,877.5 L1228.3,878.4 L1229.9,879.3 L1231.4,880.3 L1233.0,881.2 L1234.6,882.1 L1236.2,883.0 L1237.8,883.8 L1239.4,884.7 L1241.1,885.6 L1242.7,886.5 L1244.3,887.3 L1245.9,888.2 L1247.5,889.0 L1249.2,889.8 L1250.8,890.6 L1252.5,891.4 L1254.1,892.2 L1255.8,893.0 L1257.4,893.8 L1259.1,894.6 L1260.7,895.4 L1262.4,896.1 L1264.1,896.9 L1265.7,897.6 L1267.4,898.3 L1269.1,899.1 L1270.8,899.8 L1272.5,900.5 L1274.1,901.2 L1275.8,901.8 L1277.5,902.5 L1279.2,903.2 L1280.9,903.8 L1282.6,904.5 L1284.3,905.1 L1286.1,905.7 L1287.8,906.3 L1289.5,906.9 L1291.2,907.5 L1292.9,908.1 L1294.7,908.7 L1296.4,909.2 L1298.1,909.8 L1299.9,910.3 L1301.6,910.8 L1303.3,911.4 L1305.1,911.9 L1306.8,912.4 L1308.6,912.8 L1310.3,913.3 L1312.1,913.8 L1313.8,914.2 L1315.6,914.7 L1317.4,915.1 L1319.1,915.5 L1320.9,915.9 L1322.7,916.3 L1324.4,916.7 L1326.2,917.0 L1328.0,917.4 L1329.7,917.7 L1331.5,918.1 L1333.3,918.4 L1335.1,918.7 L1336.9,919.0 L1338.7,919.3 L1340.4,919.5 L1342.2,919.8 L1344.0,920.0 L1345.8,920.3 L1347.6,920.5 L1349.4,920.7 L1351.2,920.9 L1353.0,921.1 L1354.8,921.2 L1356.6,921.4 L1358.4,921.5 L1360.2,921.6 L1362.0,921.8 L1363.8,921.9 L1365.6,921.9 L1367.4,922.0 L1369.2,922.1 L1371.1,922.1 L1372.9,922.2 L1374.7,922.2 L1376.5,922.2 L1378.3,922.2 L1380.1,922.1 L1381.9,922.1 L1383.8,922.1 L1385.6,922.0 L1387.4,921.9 L1389.2,921.8 L1391.0,921.7 L1392.8,921.6 L1394.7,921.4 L1396.5,921.3 L1398.3,921.1 L1400.1,920.9 L1402.0,920.7 L1403.8,920.5 L1405.6,920.3 L1407.4,920.1 L1409.2,919.8 L1411.1,919.5 L1412.9,919.2 L1414.7,918.9 L1416.5,918.6 L1418.4,918.3 L1420.2,917.9" stroke="#000000" stroke-width="4.9"/>
<path d="M192.1,954.6 L213.2,954.6 M242.1,954.6 L263.1,954.6 M292.0,954.6 L313.0,954.6 M341.9,954.6 L362.9,954.6 M391.9,954.6 L412.9,954.6 M441.8,954.6 L462.8,954.6 M491.7,954.6 L512.7,954.6 M541.7,947.7 L554.2,939.5 M573.8,911.5 L583.9,895.4 M597.2,866.2 L605.1,851.0 M617.9,820.3 L625.5,804.4 M637.0,773.0 L643.6,757.3 M655.4,726.3 L661.8,711.1 M673.4,680.7 L680.6,664.2 M693.1,634.0 L701.4,618.6 M715.5,590.4 L726.2,573.6 M747.4,550.2 Q761.3,542.3 766.0,543.6 M790.8,551.3 Q797.6,556.7 803.9,567.3 M816.7,597.1 L824.5,614.9 M835.0,645.5 L840.8,662.1 M850.4,693.5 L856.8,709.6 M867.5,740.7 L873.9,755.9 M885.5,785.5 L892.9,800.9 M907.5,831.1 L915.4,844.4 M933.9,872.1 Q939.1,879.0 945.1,885.0 M970.6,907.3 L986.1,916.0 M1016.1,928.2 L1034.0,933.6 M1066.1,940.2 L1083.4,942.4 M1115.6,944.6 L1133.4,945.7 M1164.7,947.1 L1184.0,946.0 M1196.2,946.4 L1215.3,946.4 M1246.6,945.6 L1265.3,943.8 M1295.9,942.4 L1313.6,939.8 M1345.9,932.8 L1363.3,928.8 M1392.6,920.5 L1409.6,913.6" stroke="#ff0000" stroke-width="4.9" stroke-linecap="round"/>
</g>
<g stroke="#000" stroke-width="4.0" fill="none" stroke-linecap="butt">
<rect x="193.0" y="25.9" width="1227.25" height="990.45"/>
<path d="M173,942.8 H193.0 M173,796.1 H193.0 M173,649.4 H193.0 M173,502.8 H193.0 M173,356.1 H193.0 M173,209.4 H193.0 M173,62.7 H193.0 M183,1016.1 H193.0 M183,869.5 H193.0 M183,722.8 H193.0 M183,576.1 H193.0 M183,429.4 H193.0 M183,282.7 H193.0 M183,136.1 H193.0 M1420.25,954.0 H1439 M1420.25,732.9 H1439 M1420.25,511.8 H1439 M1420.25,290.7 H1439 M1420.25,69.6 H1439 M1420.25,843.5 H1429.5 M1420.25,622.4 H1429.5 M1420.25,401.3 H1429.5 M1420.25,180.2 H1429.5 M193.0,1016.35 V1035.3 M602.1,1016.35 V1035.3 M1011.2,1016.35 V1035.3 M1420.2,1016.35 V1035.3 M397.5,1016.35 V1025.2 M806.6,1016.35 V1025.2 M1215.7,1016.35 V1025.2"/>
</g>
<g fill="#000">
<text transform="translate(159.8,955.3) scale(1,1.04)" font-size="42" text-anchor="end">0.0</text>
<text transform="translate(159.8,808.6) scale(1,1.04)" font-size="42" text-anchor="end">0.2</text>
<text transform="translate(159.8,661.9) scale(1,1.04)" font-size="42" text-anchor="end">0.4</text>
<text transform="translate(159.8,515.3) scale(1,1.04)" font-size="42" text-anchor="end">0.6</text>
<text transform="translate(159.8,368.6) scale(1,1.04)" font-size="42" text-anchor="end">0.8</text>
<text transform="translate(159.8,221.9) scale(1,1.04)" font-size="42" text-anchor="end">1.0</text>
<text transform="translate(159.8,75.2) scale(1,1.04)" font-size="42" text-anchor="end">1.2</text>
<text transform="translate(1452.0,966.9) scale(1,1.04)" font-size="42">0.00</text>
<text transform="translate(1452.0,745.8) scale(1,1.04)" font-size="42">0.25</text>
<text transform="translate(1452.0,524.7) scale(1,1.04)" font-size="42">0.50</text>
<text transform="translate(1452.0,303.6) scale(1,1.04)" font-size="42">0.75</text>
<text transform="translate(1452.0,82.5) scale(1,1.04)" font-size="42">1.00</text>
<text transform="translate(193.0,1092.6) scale(1,1.04)" font-size="55.5" text-anchor="middle">7.5</text>
<text transform="translate(602.1,1092.6) scale(1,1.04)" font-size="55.5" text-anchor="middle">10.0</text>
<text transform="translate(1011.2,1092.6) scale(1,1.04)" font-size="55.5" text-anchor="middle">12.5</text>
<text transform="translate(1420.2,1092.6) scale(1,1.04)" font-size="55.5" text-anchor="middle">15.0</text>
<text transform="translate(806.6,1178.0) scale(1,1.02)" font-size="52" text-anchor="middle">Time (min)</text>
<text transform="translate(52.6,520.9) rotate(-90) scale(1,1.02)" font-size="51.5" text-anchor="middle">Light Scattering Intensity</text>
<text transform="translate(1570.9,527.2) rotate(90) scale(1,1.02)" font-size="51.5" text-anchor="middle">Refractive Index Signal</text>
<text transform="translate(238.0,120.9) scale(1,1.02)" font-size="51.3">BA-co-Styrene 50/50</text>
<text transform="translate(1220.3,106.6) scale(1,1.04)" font-size="46" fill="#ff0000">20 °C</text>
<text transform="translate(1217.2,184.7) scale(1,1.04)" font-size="46">60 °C</text>
</g>
<path d="M1050,91.4 H1189.1" stroke="#ff0000" stroke-width="5.2" fill="none"/>
<path d="M1048.3,169.3 H1187.6" stroke="#000000" stroke-width="5.2" fill="none"/>
</svg></body></html>
